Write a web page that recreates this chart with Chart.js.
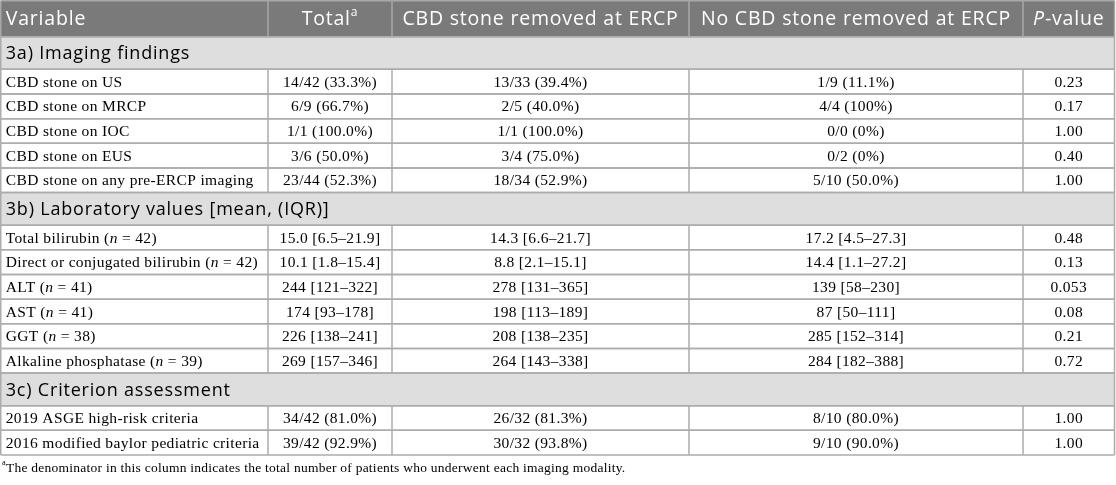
<!DOCTYPE html>
<html>
<head>
<meta charset="utf-8">
<script src="https://cdn.jsdelivr.net/npm/chart.js@4.4.1/dist/chart.umd.min.js"></script>
<style>
  html, body { margin: 0; padding: 0; background: #fff; }
  #wrap { width: 1116px; height: 485px; position: relative; }
</style>
</head>
<body>
<div id="wrap"><canvas id="tbl"></canvas></div>
<script>
// ── table content ──
// _x_ = italic, ^x^ = superscript
const headers = ['Variable', 'Total^a^', 'CBD stone removed at ERCP', 'No CBD stone removed at ERCP', '_P_-value'];
const sections = ['3a) Imaging findings', '3b) Laboratory values [mean, (IQR)]', '3c) Criterion assessment'];

const rowSection = [0, 0, 0, 0, 0, 1, 1, 1, 1, 1, 1, 2, 2];
const variables = [
    'CBD stone on US',
    'CBD stone on MRCP',
    'CBD stone on IOC',
    'CBD stone on EUS',
    'CBD stone on any pre-ERCP imaging',
    'Total bilirubin (_n_ = 42)',
    'Direct or conjugated bilirubin (_n_ = 42)',
    'ALT (_n_ = 41)',
    'AST (_n_ = 41)',
    'GGT (_n_ = 38)',
    'Alkaline phosphatase (_n_ = 39)',
    '2019 ASGE high-risk criteria',
    '2016 modified baylor pediatric criteria',
];
const totals = [
    '14/42 (33.3%)', '6/9 (66.7%)', '1/1 (100.0%)', '3/6 (50.0%)', '23/44 (52.3%)',
    '15.0 [6.5–21.9]', '10.1 [1.8–15.4]', '244 [121–322]', '174 [93–178]', '226 [138–241]', '269 [157–346]',
    '34/42 (81.0%)', '39/42 (92.9%)',
];
const removed = [
    '13/33 (39.4%)', '2/5 (40.0%)', '1/1 (100.0%)', '3/4 (75.0%)', '18/34 (52.9%)',
    '14.3 [6.6–21.7]', '8.8 [2.1–15.1]', '278 [131–365]', '198 [113–189]', '208 [138–235]', '264 [143–338]',
    '26/32 (81.3%)', '30/32 (93.8%)',
];
const notRemoved = [
    '1/9 (11.1%)', '4/4 (100%)', '0/0 (0%)', '0/2 (0%)', '5/10 (50.0%)',
    '17.2 [4.5–27.3]', '14.4 [1.1–27.2]', '139 [58–230]', '87 [50–111]', '285 [152–314]', '284 [182–388]',
    '8/10 (80.0%)', '9/10 (90.0%)',
];
const pValues = ['0.23', '0.17', '1.00', '0.40', '1.00', '0.48', '0.13', '0.053', '0.08', '0.21', '0.72', '1.00', '1.00'];
const footnote = '^a^The denominator in this column indicates the total number of patients who underwent each imaging modality.';

// ── layout (scale units) ──
const colEdges = [0.75, 268, 392, 689, 1023, 1114.5];
const HEADER_H = 36, SECTION_H = 32.6, ROW_H = 24.65;
const SANS = "'Open Sans', sans-serif";
const SERIF = "'Liberation Serif', 'Times New Roman', serif";

// text styles: size, letter spacing, family, colour
const HEAD_TXT = { size: 19.5, ls: 0.8, family: SANS, color: '#ffffff' };
const SECT_TXT = { size: 18, ls: 0.8, family: SANS, color: '#000000' };
const CELL_TXT = { size: 15.5, ls: 0.35, family: SERIF, color: '#000000' };
const NOTE_TXT = { size: 13.5, ls: 0.25, family: SERIF, color: '#000000' };

// build row list: header, then section + data rows
const rowsLayout = [];
let yCursor = 0.75;
rowsLayout.push({ kind: 'header', y0: yCursor, y1: yCursor + HEADER_H });
yCursor += HEADER_H;
sections.forEach((s, si) => {
    rowsLayout.push({ kind: 'section', text: s, y0: yCursor, y1: yCursor + SECTION_H });
    yCursor += SECTION_H;
    rowSection.forEach((sec, i) => {
        if (sec !== si) return;
        rowsLayout.push({ kind: 'data', idx: i, y0: yCursor, y1: yCursor + ROW_H });
        yCursor += ROW_H;
    });
});
const tableBottom = yCursor;

// ── rich text helper ──
function parseRich(str) {
    return str.split(/(_[^_]+_|\^[^^]+\^)/).filter(Boolean).map(t => {
        if (t[0] === '_') return { t: t.slice(1, -1), style: 'italic' };
        if (t[0] === '^') return { t: t.slice(1, -1), style: 'sup' };
        return { t, style: 'normal' };
    });
}

function drawRich(ctx, str, x, y, align, st) {
    const { size, ls, family, color } = st;
    const segs = parseRich(str);
    const fontFor = s => s.style === 'italic' ? `italic ${size}px ${family}`
        : s.style === 'sup' ? `${size * 0.62}px ${family}` : `${size}px ${family}`;
    let w = 0;
    ctx.letterSpacing = '0px';
    segs.forEach(s => {
        ctx.font = fontFor(s);
        s.w = ctx.measureText(s.t).width + s.t.length * ls;
        w += s.w;
    });
    let cx = align === 'center' ? x - w / 2 : align === 'right' ? x - w : x;
    ctx.fillStyle = color;
    ctx.textAlign = 'left';
    ctx.textBaseline = 'middle';
    ctx.letterSpacing = ls + 'px';
    segs.forEach(s => {
        ctx.font = fontFor(s);
        ctx.fillText(s.t, cx, s.style === 'sup' ? y - size * 0.38 : y);
        cx += s.w;
    });
    ctx.letterSpacing = '0px';
}

// ════════════════════════════════════════
// TABLE PLUGIN: draws cells via chart scales
// ════════════════════════════════════════
const tablePlugin = {
    id: 'tablePlugin',
    afterDraw(chart) {
        const { ctx, scales: { x, y } } = chart;
        const px = v => x.getPixelForValue(v);
        const py = v => y.getPixelForValue(v);
        const left = px(colEdges[0]), right = px(colEdges[colEdges.length - 1]);
        ctx.save();

        rowsLayout.forEach(r => {
            const top = py(r.y0), bot = py(r.y1), mid = (top + bot) / 2;
            if (r.kind === 'header') {
                ctx.fillStyle = '#7a7a7a';
                ctx.fillRect(left, top, right - left, bot - top);
                headers.forEach((h, c) => {
                    const a = px(colEdges[c]), b = px(colEdges[c + 1]);
                    if (c === 0) drawRich(ctx, h, a + 5, mid + 1, 'left', HEAD_TXT);
                    else drawRich(ctx, h, (a + b) / 2, mid + 1, 'center', HEAD_TXT);
                });
            } else if (r.kind === 'section') {
                ctx.fillStyle = '#dedede';
                ctx.fillRect(left, top, right - left, bot - top);
                drawRich(ctx, r.text, left + 5, mid + 1, 'left', SECT_TXT);
            } else {
                const i = r.idx;
                const cells = [variables[i], totals[i], removed[i], notRemoved[i], pValues[i]];
                cells.forEach((v, c) => {
                    const a = px(colEdges[c]), b = px(colEdges[c + 1]);
                    if (c === 0) drawRich(ctx, v, a + 5, mid + 1, 'left', CELL_TXT);
                    else drawRich(ctx, v, (a + b) / 2, mid + 1, 'center', CELL_TXT);
                });
            }
        });

        // grid lines
        ctx.lineWidth = 1.5;
        rowsLayout.forEach(r => {
            const top = py(r.y0), bot = py(r.y1);
            ctx.strokeStyle = r.kind === 'header' ? '#a8a8a8' : '#acacac';
            ctx.beginPath();
            ctx.moveTo(left, top); ctx.lineTo(right, top);
            ctx.moveTo(left, bot); ctx.lineTo(right, bot);
            ctx.moveTo(left, top); ctx.lineTo(left, bot);
            ctx.moveTo(right, top); ctx.lineTo(right, bot);
            if (r.kind !== 'section') {
                for (let c = 1; c < colEdges.length - 1; c++) {
                    ctx.moveTo(px(colEdges[c]), top);
                    ctx.lineTo(px(colEdges[c]), bot);
                }
            }
            ctx.stroke();
        });

        drawRich(ctx, footnote, px(2), py(tableBottom + 13), 'left', NOTE_TXT);
        ctx.restore();
    }
};

new Chart(document.getElementById('tbl'), {
    type: 'scatter',
    data: { datasets: [{ data: [], pointRadius: 0 }] },
    options: {
        responsive: true,
        maintainAspectRatio: false,
        animation: false,
        layout: { padding: 0 },
        plugins: { legend: { display: false }, tooltip: { enabled: false } },
        scales: {
            x: { type: 'linear', min: 0, max: 1116, display: false },
            y: { type: 'linear', min: 0, max: 485, reverse: true, display: false },
        },
    },
    plugins: [tablePlugin],
});
</script>
</body>
</html>
